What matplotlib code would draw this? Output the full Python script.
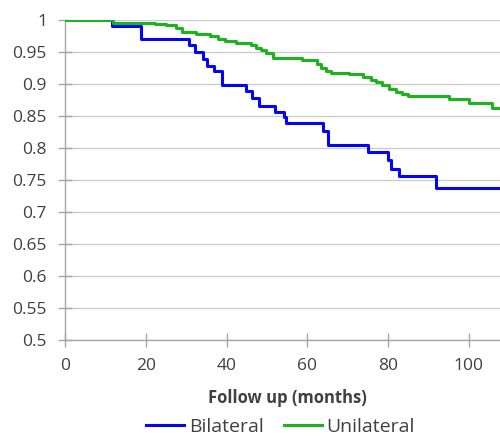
import matplotlib
matplotlib.use("Agg")
import matplotlib.pyplot as plt
from matplotlib.lines import Line2D

# Bilateral (blue) step survival curve
bil_x = [0, 11.6, 18.8, 30.6, 32.3, 34.2, 35.1, 37.0, 38.9, 44.7, 46.3, 48.1, 51.9,
         54.1, 54.8, 63.8, 65.0, 75.1, 80.0, 80.8, 82.7, 91.8, 108]
bil_y = [1.0, 0.991, 0.970, 0.961, 0.950, 0.939, 0.929, 0.920, 0.898, 0.889, 0.878,
         0.866, 0.857, 0.848, 0.839, 0.827, 0.805, 0.794, 0.781, 0.768, 0.756, 0.737, 0.737]

# Unilateral (green) step survival curve
uni_x = [0, 11.8, 22.2, 25.1, 27.6, 28.9, 32.5, 35.8, 37.8, 39.5, 42.4, 46.1, 47.3,
         48.6, 49.8, 51.4, 58.8, 62.5, 63.4, 64.6, 65.8, 70.4, 73.7, 75.7, 77.0,
         78.6, 80.2, 81.9, 83.5, 84.8, 95.1, 100.0, 105.8, 108]
uni_y = [1.0, 0.996, 0.994, 0.992, 0.987, 0.982, 0.978, 0.975, 0.971, 0.967, 0.964,
         0.961, 0.957, 0.953, 0.948, 0.940, 0.9375, 0.932, 0.925, 0.921, 0.918, 0.915,
         0.911, 0.907, 0.904, 0.898, 0.893, 0.888, 0.885, 0.882, 0.876, 0.871, 0.862, 0.862]

x_ticks = [0, 20, 40, 60, 80, 100]
y_ticks = [0.5, 0.55, 0.6, 0.65, 0.7, 0.75, 0.8, 0.85, 0.9, 0.95, 1.0]
y_labels = ["0.5", "0.55", "0.6", "0.65", "0.7", "0.75", "0.8", "0.85", "0.9", "0.95", "1"]

plt.rcParams['font.family'] = ['Open Sans', 'DejaVu Sans']

fig = plt.figure(figsize=(5, 4.37), dpi=100)
ax = fig.add_axes([0.13, 0.222, 0.87, 0.732])

blue = '#0505f5'
green = '#1cb41c'
ax.step(bil_x, bil_y, where='post', color=blue, lw=2.2, zorder=3)
ax.step(uni_x, uni_y, where='post', color=green, lw=2.2, zorder=3)

ax.set_xlim(0, 107.7)
ax.set_ylim(0.5, 1.0)
ax.set_xticks(x_ticks)
ax.set_yticks(y_ticks)
ax.set_yticklabels(y_labels)
ax.grid(axis='y', color='#cdcdcd', lw=1.0)
ax.set_axisbelow(True)
for s in ['top', 'right']:
    ax.spines[s].set_visible(False)
for s in ['left', 'bottom']:
    ax.spines[s].set_color('#a6a6a6')
    ax.spines[s].set_linewidth(1.0)
ax.tick_params(axis='both', direction='inout', length=10, width=1.0, color='#a6a6a6',
               labelsize=12.5, labelcolor='#404040')
ax.tick_params(axis='x', pad=8)
ax.tick_params(axis='y', pad=8)

fig.text(0.575, 1 - 403 / 437, 'Follow up (months)', fontsize=12, fontweight='bold',
         color='#404040', ha='center', va='baseline')

handles = [Line2D([], [], color=blue, lw=2.2), Line2D([], [], color=green, lw=2.2)]
fig.legend(handles, ['Bilateral', 'Unilateral'], loc='center', bbox_to_anchor=(0.561, 0.024),
           ncol=2, frameon=False, fontsize=14, handlelength=1.95, handletextpad=0.25,
           columnspacing=1.05, labelcolor='#404040', borderpad=0.0)

fig.savefig('out.png', dpi=100)
